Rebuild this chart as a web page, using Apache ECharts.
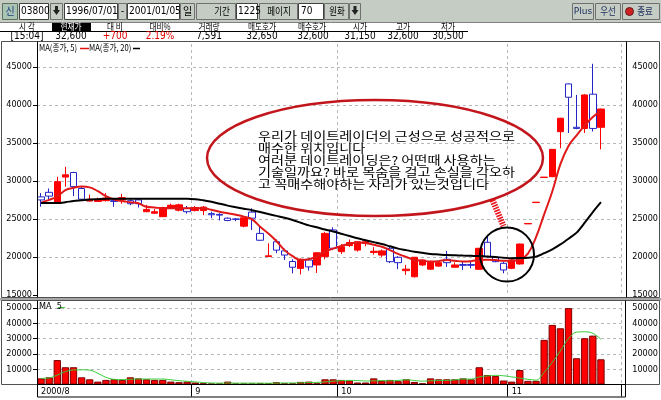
<!DOCTYPE html>
<html><head><meta charset="utf-8">
<script src="https://cdn.jsdelivr.net/npm/echarts@6/dist/echarts.min.js"></script>
<style>html,body{margin:0;padding:0;background:#fff}#c{width:661px;height:400px}</style>
</head><body><div id="c"></div>
<script>
const dates = [
 '2000/08/04','2000/08/07','2000/08/08','2000/08/09','2000/08/10','2000/08/11','2000/08/14','2000/08/16','2000/08/17','2000/08/18',
 '2000/08/21','2000/08/22','2000/08/23','2000/08/24','2000/08/25','2000/08/28','2000/08/29','2000/08/30','2000/08/31',
 '2000/09/01','2000/09/04','2000/09/05','2000/09/06','2000/09/07','2000/09/08','2000/09/14','2000/09/15','2000/09/18','2000/09/19',
 '2000/09/20','2000/09/21','2000/09/22','2000/09/25','2000/09/26','2000/09/27','2000/09/28','2000/09/29',
 '2000/10/02','2000/10/04','2000/10/05','2000/10/06','2000/10/09','2000/10/10','2000/10/11','2000/10/12','2000/10/13','2000/10/16',
 '2000/10/17','2000/10/18','2000/10/19','2000/10/20','2000/10/23','2000/10/24','2000/10/25','2000/10/26','2000/10/27','2000/10/30','2000/10/31',
 '2000/11/01','2000/11/02','2000/11/03','2000/11/06','2000/11/07','2000/11/08','2000/11/09','2000/11/10','2000/11/13','2000/11/14','2000/11/15','2000/11/16'
];
const emptySlots = ['', ''];
const opens  = [27900,28500,27050,30500,31100,29000,27350,27300,27400,27400,27500,27400,27500,25950,25750,25300,26400,26150,26400,
 26100,26100,25700,25600,25100,25000,24050,25900,23100,20050,22000,20800,19400,18500,19600,18950,20050,23550,
 20700,21500,20900,21800,20600,20250,21140,19960,18200,17400,18950,18400,18800,19700,18650,19000,19000,18380,21930,19960,19170,
 18510,19080,24350,27150,30450,30550,36470,42750,37050,36900,41400,37050];
const closes = [27500,28000,29900,30800,29250,27600,27600,27500,27750,27300,27800,27000,27000,26250,25950,26500,26800,26850,25950,
 26500,26550,25550,25500,24800,24950,25150,25100,22200,20150,20900,20250,18650,19700,18700,20550,23100,21150,
 21350,21900,22000,22000,20750,20800,19380,19250,18400,19960,19600,19380,19250,19250,18950,18900,18900,21140,20040,19380,18290,
 19600,21700,24400,27200,30500,34150,38240,41000,36900,41300,36900,39450];
const lows   = [26600,27500,27000,29250,28000,27500,27300,27250,27300,26600,27000,26800,26500,25900,25700,25250,26300,26000,25700,
 26000,25500,25100,24800,24700,24700,23900,23550,22100,20000,20500,19600,17850,17700,18200,17900,19700,20900,
 20400,21300,20700,21400,20300,20000,19200,18400,17650,17300,18800,18300,18700,18700,18650,18300,18500,18300,19900,19300,17850,
 18400,19000,24350,27150,30450,30500,34290,36300,36800,36300,36500,34150];
const highs  = [28400,29000,30550,31850,31200,29250,28200,27800,28400,27500,28300,27700,27700,26850,26300,26600,27000,27000,26700,
 26700,26700,25950,25750,25200,25100,25300,26400,24000,21800,22300,21100,19700,19800,19800,20600,23300,23900,
 21700,22300,22100,22250,21300,21000,21300,20100,18950,20000,19700,19500,19400,20800,19300,19400,19500,21200,22670,20000,19380,
 19700,21750,24400,27200,30500,34150,38300,42800,41300,41400,45400,39500];
const ma5 = [27140,27500,27950,28800,29100,29250,29150,28650,28000,27550,27350,27200,27060,26600,26500,26400,26400,26400,26400,
 26400,26400,26200,25950,25750,25550,25300,24950,23980,23100,22100,20900,20100,19600,19700,20100,20700,21100,
 21450,21750,21900,21850,21600,21350,20900,20400,20000,19600,19500,19400,19450,19600,19500,19400,19450,19600,19650,19600,19500,
 19500,19650,20450,22600,25600,28600,32200,34600,36000,37300,38400,39200];
const ma20 = [27100,27100,27100,27200,27350,27450,27550,27600,27650,27650,27650,27650,27650,27650,27650,27650,27650,27650,27650,
 27600,27450,27270,27000,26750,26550,26350,26150,25900,25650,25400,25150,24850,24500,24150,23900,23600,23350,
 23050,22750,22450,22200,21950,21700,21400,21100,20900,20700,20550,20400,20330,20260,20220,20180,20150,20120,20050,20000,19900,
 19830,19850,19900,20050,20500,21000,21650,22400,23200,24500,25900,27200];
const volumes = [4000,4700,16000,11300,11300,4700,3400,1900,3000,3400,3000,4700,4000,3400,3000,3000,1900,1500,1900,
 1300,800,600,600,1900,600,600,600,800,800,1500,800,800,1700,1900,800,3400,3400,
 3000,2600,1300,1300,4000,2600,3000,2200,3400,1700,800,4000,3400,3400,3400,4000,3400,11300,6200,5500,2600,
 1900,9500,2400,2400,29200,39000,36800,50000,17200,30300,32000,16500];
const volMa5 = [4000,4300,6200,8400,9500,9600,9400,7300,4700,3400,3200,3400,3600,3600,3600,3600,3100,2500,2100,
 1700,1300,1000,900,1000,900,900,900,900,800,900,1000,1000,1100,1300,1400,1700,2200,
 2500,2700,2600,2300,2400,2500,2400,2700,3000,2700,2200,2400,2600,2700,3000,3600,3500,5000,5600,6000,5700,
 5000,4200,3400,2900,8000,14500,22000,30000,34300,34500,33500,29500];
const monthStartIdx = [0, 19, 37, 58];
const monthLabels = ['2000/8', '9', '10', '11'];
const headerLabels = ['시 각','현재가','대 비','대비%','거래량','매도호가','매수호가','시가','고가','저가'];
const headerValues = ['[15:04]','32,600','+700','2.19%','7,591','32,650','32,600','31,150','32,600','30,500'];
const noteLines = ['우리가 데이트레이더의 근성으로 성공적으로','매수한 위치입니다','여러분 데이트레이딩은? 어떤때 사용하는','기술일까요? 바로 목숨을 걸고 손실을 각오하','고 꼭매수해야하는 자리가 있는것입니다'];

const categories = dates.concat(emptySlots);
const candleData = dates.map((d, i) => [opens[i], closes[i], lows[i], highs[i]]);
const NARROW = "'Liberation Sans Narrow','Arial Narrow','DejaVu Sans Condensed',sans-serif";
const KR = "'Noto Sans CJK KR',sans-serif";

const isMonth = (i) => monthStartIdx.indexOf(i) >= 0;
const isMonthInner = (i) => monthStartIdx.indexOf(i) > 0;

function T(x, y, text, o) {
  o = o || {};
  return { type: 'text', x: x, y: y, scaleX: o.sx || 1, z: 120,
    style: { text: text, fill: o.color || '#000', font: (o.size || 9) + 'px ' + (o.family || KR),
      textAlign: o.align || 'center', textVerticalAlign: 'middle' } };
}
function R(x, y, w, h, fill, stroke, z) {
  return { type: 'rect', shape: { x: x, y: y, width: w, height: h }, z: z || 110,
    style: { fill: fill, stroke: stroke || null, lineWidth: 1 } };
}
function L(x1, y1, x2, y2, color, w, z) {
  return { type: 'line', shape: { x1: x1, y1: y1, x2: x2, y2: y2 }, z: z || 110,
    style: { stroke: color, lineWidth: w || 1 } };
}

const TB = '#c4ccc4';
const graphics = [];
// toolbar
graphics.push(R(0, 0, 661, 22, TB, null, 100));
graphics.push(L(0, 22.5, 661, 22.5, '#808080'));
graphics.push(R(2.5, 3.5, 15, 16, '#a9c4b2', '#607060'));
graphics.push(T(10, 11.5, '신', { size: 10, color: '#1a3a80' }));
graphics.push(R(19.5, 3.5, 29, 16, '#fff', '#404040'));
graphics.push(T(21, 11.5, '03800', { size: 10, family: NARROW, align: 'left' }));
graphics.push(R(50.5, 3.5, 12, 16, TB, '#707070'));
graphics.push({ type: 'polygon', z: 120, shape: { points: [[53, 10], [60, 10], [56.5, 15]] }, style: { fill: '#222' } });
graphics.push(R(55, 6, 3, 4, '#222', null, 120));
graphics.push(R(64.5, 3.5, 53, 16, '#fff', '#404040'));
graphics.push(T(66, 11.5, '1996/07/01', { size: 10, family: NARROW, align: 'left' }));
graphics.push(R(118.5, 3.5, 8, 16, TB, '#707070'));
graphics.push(T(122.5, 11.5, '-', { size: 10, family: NARROW }));
graphics.push(R(127.5, 3.5, 52, 16, '#fff', '#404040'));
graphics.push(T(129, 11.5, '2001/01/05', { size: 10, family: NARROW, align: 'left' }));
graphics.push(R(180.5, 3.5, 14, 16, TB, '#707070'));
graphics.push(T(187.5, 11.5, '일', { size: 10 }));
graphics.push(R(196.5, 3.5, 39, 16, TB, '#707070'));
graphics.push(T(222, 11.5, '기간', { size: 10, sx: 0.85 }));
graphics.push(R(236.5, 3.5, 21, 16, '#fff', '#404040'));
graphics.push(T(238, 11.5, '1225', { size: 10, family: NARROW, align: 'left' }));
graphics.push(R(259.5, 3.5, 38, 16, TB, '#707070'));
graphics.push(T(279, 11.5, '페이지', { size: 10, sx: 0.85 }));
graphics.push(R(298.5, 3.5, 25, 16, '#fff', '#404040'));
graphics.push(T(301, 11.5, '70', { size: 10, family: NARROW, align: 'left' }));
graphics.push(R(324.5, 3.5, 24, 16, TB, '#707070'));
graphics.push(T(337, 11.5, '원화', { size: 10, sx: 0.85 }));
graphics.push(R(349.5, 3.5, 11, 16, TB, '#707070'));
graphics.push({ type: 'polygon', z: 120, shape: { points: [[351.5, 10], [358.5, 10], [355, 15]] }, style: { fill: '#222' } });
graphics.push(R(353.5, 6, 3, 4, '#222', null, 120));
graphics.push(R(572.5, 3.5, 21, 16, TB, '#707070'));
graphics.push(T(583, 11.5, 'Plus', { size: 9, family: 'DejaVu Sans', color: '#203060' }));
graphics.push(R(595.5, 3.5, 25, 16, TB, '#707070'));
graphics.push(T(608, 11.5, '우선', { size: 10, sx: 0.85, color: '#203060' }));
graphics.push(R(622.5, 3.5, 37, 16, TB, '#707070'));
graphics.push({ type: 'circle', z: 120, shape: { cx: 629.5, cy: 11.5, r: 4 }, style: { fill: '#d02020', stroke: '#602020' } });
graphics.push(T(645, 11.5, '종료', { size: 10, sx: 0.85, color: '#203060' }));
// header rows
const hx = [27, 71, 115, 160, 209, 262, 312, 360, 403, 448];
const vx = [27, 71, 115, 160, 209, 262, 313, 360, 403, 448];
graphics.push(R(52, 23, 39, 8, '#000', null, 110));
headerLabels.forEach((t, k) => graphics.push(T(hx[k], 27, t, { size: 9, sx: 0.85, color: k === 1 ? '#fff' : '#000' })));
graphics.push(L(0, 31.5, 468, 31.5, '#000'));
headerValues.forEach((t, k) => graphics.push(T(vx[k], 36.5, t, { size: 10, family: NARROW, color: (k === 2 || k === 3) ? '#e00000' : '#000' })));
// frames
graphics.push({ type: 'rect', z: 110, shape: { x: 1.5, y: 41.5, width: 658, height: 256 }, style: { fill: null, stroke: '#505050' } });
graphics.push(L(37.5, 41.5, 37.5, 297.5, '#000'));
graphics.push(L(626.5, 41.5, 626.5, 297.5, '#000'));
graphics.push(R(0, 298, 661, 2.5, '#a8a8a8', null, 105));
graphics.push({ type: 'rect', z: 110, shape: { x: 1.5, y: 300.5, width: 658, height: 84 }, style: { fill: null, stroke: '#505050' } });
graphics.push(L(37.5, 300.5, 37.5, 397, '#000'));
graphics.push(L(625.5, 300.5, 625.5, 397, '#000'));
graphics.push({ type: 'rect', z: 110, shape: { x: 37.5, y: 384.5, width: 588, height: 12.5 }, style: { fill: null, stroke: '#000' } });
// legends
graphics.push(T(39, 48, 'MA(종가, 5)', { size: 9, align: 'left', sx: 0.85 }));
graphics.push(L(80, 48.5, 89, 48.5, '#e01010', 1.5));
graphics.push(T(89, 48, 'MA(종가, 20)', { size: 9, align: 'left', sx: 0.85 }));
graphics.push(L(133, 48.5, 140, 48.5, '#000', 1.5));
graphics.push(T(39, 307, 'MA  5', { size: 9, align: 'left', family: NARROW }));
graphics.push(L(58, 307.5, 65, 307.5, '#33cc33', 1));
// annotation
graphics.push({ type: 'ellipse', z: 130, shape: { cx: 375, cy: 158, rx: 168, ry: 58 }, style: { fill: null, stroke: '#c3161c', lineWidth: 2.5 } });
noteLines.forEach((t, k) => graphics.push({ type: 'text', z: 131, x: 258, y: 136.5 + k * 12, scaleX: 1.18,
  style: { text: t, fill: '#000', font: '12px ' + KR, textAlign: 'left', textVerticalAlign: 'middle' } }));
graphics.push({ type: 'circle', z: 130, shape: { cx: 507, cy: 254.5, r: 27 }, style: { fill: null, stroke: '#000', lineWidth: 2 } });
graphics.push({ type: 'line', z: 130, shape: { x1: 492.5, y1: 200, x2: 503.5, y2: 226 }, style: { stroke: '#e8141c', lineWidth: 6, lineDash: [1.6, 1.1] } });

const grayDash = { color: '#b8b8b8', type: [3, 3], width: 1 };
const axisFont = { fontSize: 9, color: '#000', fontFamily: NARROW };

const chart = echarts.init(document.getElementById('c'), null, { renderer: 'canvas' });
chart.setOption({
  animation: false,
  backgroundColor: '#fff',
  grid: [
    { left: 37, right: 35, top: 44, height: 251 },
    { left: 37, right: 35, top: 302, height: 82.5 }
  ],
  xAxis: [
    { type: 'category', gridIndex: 0, data: categories, boundaryGap: true,
      axisLine: { show: false }, axisTick: { show: false }, axisLabel: { show: false },
      splitLine: { show: true, interval: isMonthInner, lineStyle: grayDash } },
    { type: 'category', gridIndex: 1, data: categories, boundaryGap: true,
      axisLine: { show: true, lineStyle: { color: '#000', width: 1 } },
      axisTick: { show: true, interval: isMonth, length: 12, lineStyle: { color: '#000' } },
      axisLabel: Object.assign({ interval: isMonth, align: 'left', margin: 3,
        formatter: (v, i) => { const k = monthStartIdx.indexOf(i); return k >= 0 ? monthLabels[k] : ''; } }, axisFont),
      splitLine: { show: true, interval: isMonthInner, lineStyle: grayDash } }
  ],
  yAxis: [
    { type: 'value', gridIndex: 0, position: 'left', min: 15000, max: 48000, interval: 5000,
      axisLine: { show: false }, axisTick: { show: true, length: 4, lineStyle: { color: '#000' } },
      axisLabel: Object.assign({ margin: 5, showMaxLabel: false, formatter: v => (v % 5000 === 0 ? String(v) : '') }, axisFont),
      splitLine: { show: true, showMinLine: false, showMaxLine: false, lineStyle: grayDash } },
    { type: 'value', gridIndex: 0, position: 'right', min: 15000, max: 48000, interval: 5000,
      axisLine: { show: false }, axisTick: { show: false },
      axisLabel: Object.assign({ margin: 11, showMaxLabel: false, formatter: v => (v % 5000 === 0 ? String(v) : '') }, axisFont),
      splitLine: { show: false } },
    { type: 'value', gridIndex: 1, position: 'left', min: 0, max: 54000, interval: 10000,
      axisLine: { show: false }, axisTick: { show: true, length: 4, lineStyle: { color: '#000' } },
      axisLabel: Object.assign({ margin: 5, showMinLabel: false, showMaxLabel: false, formatter: v => (v > 0 && v % 10000 === 0 ? String(v) : '') }, axisFont),
      splitLine: { show: true, showMinLine: false, showMaxLine: false, lineStyle: grayDash } },
    { type: 'value', gridIndex: 1, position: 'right', min: 0, max: 54000, interval: 10000,
      axisLine: { show: false }, axisTick: { show: false },
      axisLabel: Object.assign({ margin: 11, showMinLabel: false, showMaxLabel: false, formatter: v => (v > 0 && v % 10000 === 0 ? String(v) : '') }, axisFont),
      splitLine: { show: false } }
  ],
  series: [
    { type: 'candlestick', xAxisIndex: 0, yAxisIndex: 0, data: candleData, barWidth: 7,
      itemStyle: { color: '#ff0000', color0: '#ffffff', borderColor: '#ff0000', borderColor0: '#2424c8', borderWidth: 1 } },
    { type: 'line', xAxisIndex: 0, yAxisIndex: 0, data: ma5, smooth: 0.4, symbol: 'none',
      lineStyle: { color: '#e01818', width: 2 } },
    { type: 'line', xAxisIndex: 0, yAxisIndex: 0, data: ma20, smooth: 0.3, symbol: 'none',
      lineStyle: { color: '#000', width: 2 } },
    { type: 'bar', xAxisIndex: 1, yAxisIndex: 2, data: volumes, barWidth: '90%',
      itemStyle: { color: '#ff0000', borderColor: '#7a0000', borderWidth: 1 } },
    { type: 'line', xAxisIndex: 1, yAxisIndex: 2, data: volMa5, smooth: 0.4, symbol: 'none',
      lineStyle: { color: '#33cc33', width: 1 } }
  ],
  graphic: graphics
});
</script></body></html>
